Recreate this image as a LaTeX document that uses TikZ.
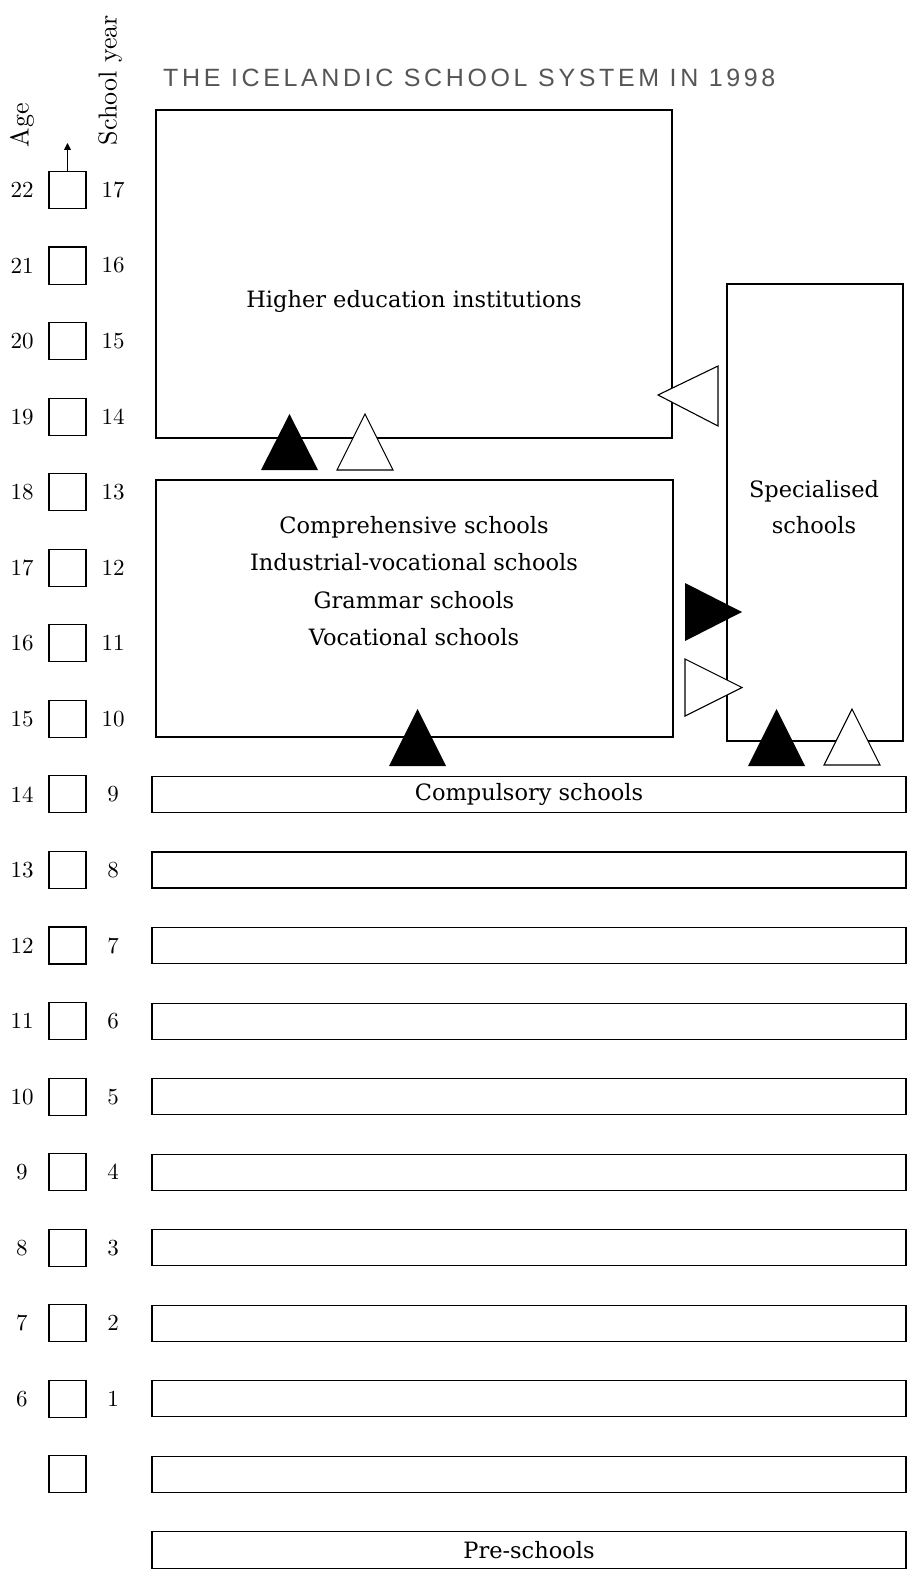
\documentclass[tikz,border=0pt]{standalone}
\usepackage{fontspec}
\usetikzlibrary{arrows.meta}
\newfontfamily\titlefont[LetterSpace=14.5]{Liberation Sans}
\newfontfamily\boxfont{DejaVu Serif}
\newfontfamily\numfont[Extension=.otf]{lmroman10-regular}
\definecolor{titlegray}{HTML}{555555}
\begin{document}
\begin{tikzpicture}[x=1pt,y=-1pt,
  sq/.style={draw, line width=1.1pt, minimum width=37pt, minimum height=37pt, inner sep=0pt},
  bar/.style={draw, line width=1.1pt, minimum width=754pt, minimum height=36pt, inner sep=0pt, font=\boxfont\fontsize{22.5}{27}\selectfont},
  num/.style={font=\numfont\fontsize{23}{27}\selectfont, inner sep=0pt},
  head/.style={font=\numfont\fontsize{26}{30}\selectfont, inner sep=0pt, rotate=90},
  big/.style={draw, line width=1.1pt, inner sep=0pt},
  lbl/.style={font=\boxfont\fontsize{22.5}{37.5}\selectfont, align=center, inner sep=0pt},
  tri/.style={line width=1.1pt, line join=miter}
]
\useasboundingbox (0,0) rectangle (909,1570);

% title
\node[anchor=base west, inner sep=0pt, text=titlegray, font=\titlefont\fontsize{25}{30}\selectfont] (title) at (163,87) {THE ICELANDIC SCHOOL SYSTEM IN 1998};

% axis headings
\node[head] (agehead) at (22,125) {Age};
\node[head] (yearhead) at (110,80) {School year};

% age squares and numbers
\foreach \a/\s [evaluate=\a as \yy using {190+(22-\a)*75.55}] in {22/17,21/16,20/15,19/14,18/13,17/12,16/11,15/10,14/9,13/8,12/7,11/6,10/5,9/4,8/3,7/2,6/1} {
  \node[sq] (sq\a) at (67.5,\yy) {};
  \node[num] (age\a) at (22,\yy) {\a};
  \node[num] (yr\a) at (113,\yy) {\s};
}
\node[sq] (sq5) at (67.5,{190+17*75.55}) {};
\coordinate (arrtop) at (67.5,143);
\draw[line width=1pt, -{Triangle[length=7pt,width=7pt]}] (sq22.north) -- (arrtop);

% year bars
\node[bar] (bar9) at (529,{190+8*75.55}) {Compulsory schools};
\foreach \a in {13,12,11,10,9,8,7,6,5} {
  \node[bar] (bar\a) at (529,{190+(22-\a)*75.55}) {};
}
\node[bar, minimum height=37pt] (pre) at (529,1550) {Pre-schools};

% big boxes
\node[big, minimum width=516pt, minimum height=328pt] (higher) at (414,274) {};
\node[lbl] (highertxt) at (414,301) {Higher education institutions};
\node[big, minimum width=517pt, minimum height=257pt] (upper) at (414.5,608.5) {};
\node[lbl] (uppertxt) at (414,581) {Comprehensive schools\\Industrial-vocational schools\\Grammar schools\\Vocational schools};
\node[big, minimum width=176pt, minimum height=457pt] (spec) at (815,512.5) {};
\node[lbl, font=\boxfont\fontsize{22.5}{36}\selectfont] (spectxt) at (814,507) {Specialised\\schools};

% triangles
\fill[black] (261,470) -- (289.5,414) -- (318,470) -- cycle;
\draw[tri, fill=white] (337,470) -- (365,414) -- (393,470) -- cycle;
\draw[tri, fill=white] (718,366) -- (658,395) -- (718,426) -- cycle;
\fill[black] (685,583) -- (742,612) -- (685,641) -- cycle;
\draw[tri, fill=white] (685,659) -- (742,687.5) -- (685,716) -- cycle;
\fill[black] (389,766) -- (417.5,709) -- (446,766) -- cycle;
\fill[black] (748,766) -- (776.5,709) -- (805,766) -- cycle;
\draw[tri, fill=white] (824,765) -- (852,709) -- (880,765) -- cycle;
\end{tikzpicture}
\end{document}
